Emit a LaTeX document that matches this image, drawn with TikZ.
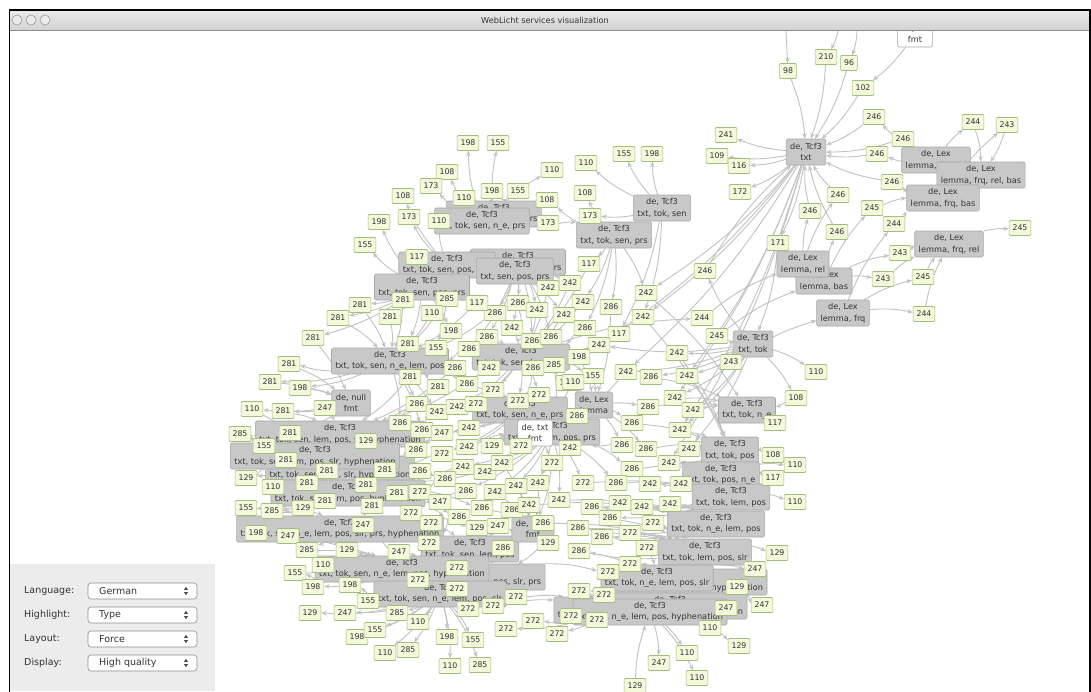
\documentclass[tikz,border=0pt]{standalone}
\usepackage{fontspec}
\setmainfont{DejaVu Sans}
\usetikzlibrary{arrows.meta,shapes.geometric}
\pgfdeclarelayer{bg}
\pgfsetlayers{bg,main}
\definecolor{gfill}{HTML}{F3F9DA}
\definecolor{gline}{HTML}{A2BF7A}
\definecolor{tfill}{HTML}{C8C8C8}
\definecolor{tline}{HTML}{A8A8A8}
\definecolor{edgec}{HTML}{C2C2C2}
\definecolor{txtc}{HTML}{333333}
\definecolor{panelc}{HTML}{ECECEC}
\definecolor{bartop}{HTML}{EAEAEA}
\definecolor{barbot}{HTML}{D2D2D2}
\begin{document}
\begin{tikzpicture}[x=1pt,y=-1pt,
  gl/.style={draw=gline, fill=gfill, line width=0.6pt, rounded corners=1pt,
    font=\fontsize{7.8}{9}\selectfont, text=txtc, inner xsep=3.4pt, inner ysep=0pt,
    minimum height=15pt},
  ty/.style={draw=tline, fill=tfill, line width=0.6pt, rounded corners=1.5pt,
    font=\fontsize{8.2}{11.5}\selectfont, text=txtc, align=center,
    inner xsep=4pt, inner ysep=1.5pt, minimum height=26pt},
  tw/.style={ty, fill=white},
  conn/.style={draw=edgec, line width=0.9pt, -{Stealth[length=5.5pt,width=4.5pt]}, bend left=8},
  uilab/.style={font=\fontsize{9.5}{11}\selectfont, text=txtc, inner sep=0pt},
  uival/.style={font=\fontsize{9.5}{11}\selectfont, text=txtc, inner sep=0pt},
  combo/.style={draw=black!45, fill=white, rounded corners=3pt, line width=0.6pt,
    minimum width=109pt, minimum height=16pt, inner sep=0pt},
]
\useasboundingbox (0,0) rectangle (1091,691);
\begin{pgfonlayer}{bg}
\fill[white] (0,0) rectangle (1091,691);
\end{pgfonlayer}

% ---------- type nodes ----------
\node[tw] (Tfmt) at (915,34) {de, txt\\fmt};
\node[ty] (T1) at (806,152) {de, Tcf3\\txt};
\node[ty] (TL1) at (936,160) {de, Lex\\lemma, frq, rel};
\node[ty] (TL2) at (981,175) {de, Lex\\lemma, frq, rel, bas};
\node[ty] (TL3) at (943,198) {de, Lex\\lemma, frq, bas};
\node[ty] (TL4) at (949,244) {de, Lex\\lemma, frq, rel};
\node[ty] (TL6) at (824,281) {de, Lex\\lemma, bas};
\node[ty] (TL5) at (803,264) {de, Lex\\lemma, rel};
\node[ty] (TL7) at (843,313) {de, Lex\\lemma, frq};
\node[ty] (TT2) at (753,344) {de, Tcf3\\txt, tok};

\node[ty] (TS1) at (662,208) {de, Tcf3\\txt, tok, sen};
\node[ty] (TS2) at (614,235) {de, Tcf3\\txt, tok, sen, prs};
\node[ty] (TS3) at (494,214) {de, Tcf3\\txt, tok, sen, n\_e, prs};
\node[ty] (TS4) at (482,221) {de, Tcf3\\txt, tok, sen, n\_e, prs};
\node[ty] (TS5) at (518,262) {de, Tcf3\\txt, tok, sen, pos, prs};
\node[ty] (TS6) at (447,265) {de, Tcf3\\txt, tok, sen, pos, n\_e};
\node[ty] (TS7) at (515,271) {de, Tcf3\\txt, sen, pos, prs};
\node[ty] (TS8) at (422,287) {de, Tcf3\\txt, tok, sen, pos, prs};

\node[ty] (TM1) at (390,361) {de, Tcf3\\txt, tok, sen, n\_e, lem, pos};
\node[ty] (TM2) at (521,357) {de, Tcf3\\txt, tok, sen, lem, pos};
\node[ty] (TN) at (351,403) {de, null\\fmt};

\node[ty] (TX1) at (340,434) {de, Tcf3\\txt, tok, sen, lem, pos, slr, hyphenation};
\node[ty] (TX3) at (340,469) {de, Tcf3\\txt, tok, sen, pos, slr, hyphenation};
\node[ty] (TX2) at (315,456) {de, Tcf3\\txt, tok, sen, lem, pos, slr, hyphenation};
\node[ty] (TX4) at (348,493) {de, Tcf3\\txt, tok, sen, lem, pos, hyphenation};
\node[ty] (TX5) at (340,529) {de, Tcf3\\txt, tok, sen, n\_e, lem, pos, slr, prs, hyphenation};
\node[ty] (TX6) at (470,549) {de, Tcf3\\txt, tok, sen, lem, pos};
\node[ty] (TX9) at (470,577) {de, Tcf3\\txt, tok, sen, n\_e, lem, pos, slr, prs};
\node[ty] (TX7) at (402,569) {de, Tcf3\\txt, tok, sen, n\_e, lem, pos, hyphenation};
\node[ty] (TX8) at (440,594) {de, Tcf3\\txt, tok, sen, n\_e, lem, pos, slr};

\node[ty] (TB2) at (520,410) {de, Tcf3\\txt, tok, sen, n\_e, prs};
\node[ty] (TB1) at (594,405) {de, Lex\\lemma};
\node[ty] (TB3) at (552,432) {de, Tcf3\\txt, tok, lem, pos, prs};
\node[tw] (TW) at (535,433) {de, txt\\fmt};
\node[ty] (THt) at (533,529) {de, html\\fmt};

\node[ty] (TR1) at (747,410) {de, Tcf3\\txt, tok, n\_e};
\node[ty] (TR2) at (730,450) {de, Tcf3\\txt, tok, pos};
\node[ty] (TR3) at (721,475) {de, Tcf3\\txt, tok, pos, n\_e};
\node[ty] (TR4) at (731,497) {de, Tcf3\\txt, tok, lem, pos};
\node[ty] (TR5) at (716,524) {de, Tcf3\\txt, tok, n\_e, lem, pos};
\node[ty] (TR6) at (705,552) {de, Tcf3\\txt, tok, lem, pos, slr};
\node[ty] (TR8) at (690,582) {de, Tcf3\\txt, tok, sen, lem, pos, hyphenation};
\node[ty] (TR7) at (657,578) {de, Tcf3\\txt, tok, n\_e, lem, pos, slr};
\node[ty] (TR11) at (610,610) {de, Tcf3\\txt, tok, n\_e, lem, pos, slr};
\node[ty] (TR9) at (670,606) {de, Tcf3\\txt, tok, sen, lem, pos, hyphenation};
\node[ty] (TR10) at (650,612) {de, Tcf3\\txt, tok, n\_e, lem, pos, hyphenation};

% ---------- service nodes with their connectors ----------
\def\nn{n}
\foreach \px/\py/\t/\src/\dst/\ex [count=\i] in {
788/71/98/n/T1/n, 826/57/210/n/T1/n, 849/63/96/n/T1/n, 863/88/102/Tfmt/T1/n,
874/117/246/TL1/T1/n, 726/135/241/T1/n/n, 717/156/109/T1/n/n, 739/166/116/T1/n/n,
740/192/172/T1/n/n, 903/139/246/TL2/T1/n, 877/154/246/TL1/T1/n, 892/182/246/TL3/T1/n,
973/122/244/TL1/TL2/n, 1007/125/243/TL3/TL2/n, 838/195/246/TL5/T1/n, 810/211/246/TL5/T1/n,
872/208/245/TL6/TL3/n, 894/224/244/TL7/TL3/n, 837/232/246/TL6/T1/n, 1020/228/245/TL4/n/n,
778/243/171/T1/TT2/n, 900/253/243/TL6/TL4/n, 883/279/243/TL6/TL4/n, 923/277/245/TL7/TL4/n,
705/271/246/TT2/T1/n, 924/314/244/TL7/TL4/n, 702/318/244/TM2/TL5/n, 717/336/245/TT2/TL6/n,
731/362/243/TT2/TL7/n, 816/372/110/TT2/n/n, 796/398/108/TT2/TR1/n, 775/423/117/TR1/n/n,
773/455/108/TR2/n/n, 795/465/110/TR3/n/n, 795/502/110/TR4/n/n,
468/143/198/TS4/n/n, 498/143/155/TS3/n/n, 447/172/108/TS4/n/n, 431/186/173/TS4/n/n,
403/196/108/TS6/n/n, 464/198/110/TS4/n/n, 492/191/198/TS3/n/n, 518/191/155/TS3/n/n,
547/200/108/TS2/n/n, 552/170/110/TS3/n/n, 586/163/110/TS1/n/n, 624/154/155/TS1/n/n,
652/154/198/TS1/n/n, 585/193/108/TS2/n/n, 590/216/173/TS1/TS2/n, 548/223/173/TS4/TS2/n,
379/222/198/TS8/n/n, 409/217/173/TS6/n/n, 439/221/110/TS6/n/n, 365/245/155/TS8/n/n,
417/257/117/TS8/TS6/n, 589/264/117/TS2/TM2/n, 570/283/242/TS7/TM2/n, 548/288/242/TS5/TM2/n,
646/293/242/TS2/TR1/T1, 583/302/242/TS2/TM2/n, 611/307/286/TS2/TB1/n, 518/303/286/TS7/TM2/n,
495/313/286/TS7/TM1/n, 537/310/242/TS5/TM2/n, 564/315/242/TS7/TM2/n, 643/317/242/TS1/TR2/T1,
477/303/117/TS8/TM1/n, 447/299/285/TS8/TM1/n, 403/300/281/TS8/TM1/n, 360/305/281/TS8/TM1/n,
390/317/281/TS8/TM1/n, 432/313/110/TS6/TM1/n, 512/328/242/TS5/TM2/n, 585/328/286/TS2/TM2/n,
619/334/117/TS1/TM2/n, 451/331/198/TS8/TM1/n, 487/337/286/TS7/TM2/n, 532/341/286/TS5/TM2/n,
551/337/286/TS5/TM2/n, 599/345/242/TT2/TM2/T1, 677/353/242/TT2/TR2/n, 338/318/281/TS8/TM1/n,
313/338/281/TS8/TN/n, 408/344/281/TS8/TM1/n, 436/348/155/TS6/TM1/n, 469/349/286/TS7/TM1/n,
289/364/281/TM1/TN/n, 455/368/286/TM1/TX1/n, 489/368/242/TM2/TX1/n, 579/357/198/TM2/TB1/n,
554/365/285/TM2/TB3/n, 533/368/286/TM2/TB2/n, 593/376/155/TM2/TB1/n, 626/372/242/TT2/TB3/T1,
651/377/286/TT2/TR1/n, 687/376/242/TT2/TR2/T1, 567/383/110/TM2/TB1/n, 410/377/281/TM1/TX1/n,
270/382/281/TM1/TN/n, 300/388/198/TM1/TN/n, 438/387/281/TM1/TX1/n, 467/384/286/TM1/TB2/n,
252/409/110/TN/TX2/n, 283/411/281/TN/TX1/n, 325/408/247/TN/TX1/n, 417/404/286/TM1/TX1/n,
437/412/242/TM1/TX1/n, 457/407/242/TM2/TB2/n, 476/404/272/TM2/TB2/n, 493/390/272/TM2/TB2/n,
518/401/272/TM2/TB2/n, 539/395/272/TM2/TB3/n, 573/382/110/TB1/TW/n, 577/416/286/TB1/TB3/n,
675/398/242/TT2/TR1/T1, 648/407/286/TB1/TR1/n, 693/410/242/TT2/TR1/n, 632/423/286/TB1/TR2/n,
680/430/242/TT2/TR2/T1, 469/428/242/TB2/TX1/n, 400/423/286/TM1/TX1/n, 422/430/286/TM1/TX1/n,
442/433/247/TB2/TX1/n, 240/434/285/TX1/TX2/n, 290/433/281/TN/TX1/n, 366/441/129/TX1/TX2/n,
264/446/155/TX1/TX2/n, 286/460/281/TX1/TX2/n, 416/450/286/TX1/TX2/n, 442/454/272/TB2/TX2/n,
467/447/242/TB2/TB3/n, 492/446/129/TB2/TB3/n, 521/446/272/TB2/TW/n, 570/448/242/TB1/TB3/n,
622/445/286/TB1/TB3/n, 646/449/286/TB1/TR2/n, 689/449/242/TT2/TR2/n, 246/478/129/TX2/TX3/n,
327/471/281/TX2/TX3/n, 385/470/281/TX2/TX3/n, 420/471/286/TX2/TX3/n, 463/467/242/TB3/TX3/n,
485/472/242/TB3/TX3/n, 502/463/242/TW/THt/n, 552/463/272/TW/THt/n, 669/463/242/TR2/TR3/T1,
632/469/286/TB3/TR3/n, 773/478/117/TR3/n/n, 273/487/110/TX3/TX4/n, 307/483/281/TX3/TX4/n,
366/485/281/TX3/TX4/n, 445/479/286/TX3/TX4/n, 466/491/286/TB3/TX4/n, 397/493/281/TX3/TX4/n,
420/492/272/TX3/TX4/n, 495/492/242/TB3/THt/n, 516/486/242/TB3/THt/n, 538/483/242/TB3/THt/n,
583/483/272/TB3/TR4/n, 616/483/286/TB3/TR4/n, 650/484/242/TR3/TR4/n, 681/484/242/TR3/TR4/n,
246/508/155/TX4/TX5/n, 272/511/285/TX4/TX5/n, 303/508/129/TX4/TX5/n, 325/501/281/TX3/TX4/n,
372/506/281/TX3/TX5/n, 440/502/247/TX4/TX5/n, 411/513/272/TX4/TX5/n, 482/508/286/TX4/THt/n,
459/517/286/TX4/TX5/n, 431/523/272/TX4/TX6/n, 512/510/286/THt/TX6/n, 529/505/242/THt/TR5/n,
559/500/242/TB3/TR5/n, 592/507/286/TR4/TR5/n, 620/503/242/TR4/TR5/n, 642/507/242/TR4/TR5/n,
670/504/242/TR4/TR5/n, 610/518/286/TR4/TR6/n, 256/533/198/TX5/TX7/n, 288/536/247/TX5/TX7/n,
363/525/247/TX5/TX7/n, 477/528/129/TX5/TX6/n, 498/526/247/THt/TX6/n, 543/523/286/THt/TR6/n,
653/523/272/TR5/TR6/n, 578/528/286/TR5/TR6/n, 630/533/272/TR5/TR6/n, 548/543/129/THt/TX9/n,
602/537/286/TR5/TR6/n, 503/548/286/TX6/TX9/n, 579/551/286/TR6/TR7/n, 647/548/272/TR6/TR7/n,
429/543/272/TX6/TX7/n, 307/550/285/TX5/TX7/n, 347/550/129/TX5/TX7/n, 399/552/247/TX6/TX7/n,
777/553/129/TR6/n/n, 323/565/110/TX7/TX8/n, 295/573/155/TX7/TX8/n, 457/568/272/TX6/TX8/n,
418/580/272/TX7/TX8/n, 313/587/198/TX7/n/n, 350/585/198/TX8/n/n, 457/589/272/TX9/TX8/n,
368/601/155/TX8/n/n, 468/609/272/TX8/n/n, 310/613/129/TX8/n/n, 345/613/247/TX8/n/n,
397/613/285/TX8/n/n, 418/622/110/TX8/n/n, 357/637/198/TX8/n/n, 375/630/155/TX8/n/n,
447/637/198/TX8/n/n, 473/640/155/TX8/n/n, 385/653/110/TX8/n/n, 408/650/285/TX8/n/n,
450/666/110/TX8/n/n, 480/665/285/TX8/n/n,
608/572/272/TX9/TR7/n, 630/564/272/TR6/TR7/n, 755/569/247/TR7/n/n, 737/587/129/TR8/n/n,
762/605/247/TR9/n/n, 726/608/247/TR10/n/n, 493/606/272/TX9/TR11/n, 516/597/272/TX9/TR11/n,
579/591/272/TR7/TR11/n, 604/595/272/TR7/TR10/n, 571/616/272/TR11/TR10/n, 597/620/272/TR11/TR10/n,
533/621/272/TR11/n/n, 506/629/272/TR11/n/n, 557/634/272/TR11/n/n, 710/628/110/TR10/n/n,
739/646/129/TR10/n/n, 687/653/110/TR10/n/n, 659/663/247/TR10/n/n, 697/678/110/TR10/n/n,
635/686/129/n/TR10/n}{
  \node[gl] (g\i) at (\px,\py) {\t};
  \begin{pgfonlayer}{bg}
    \ifx\src\nn\else \draw[conn] (\src) to (g\i);\fi
    \ifx\dst\nn\else \draw[conn] (g\i) to (\dst);\fi
    \ifx\ex\nn\else \draw[conn] (\ex) to (g\i);\fi
  \end{pgfonlayer}
}

% connectors entering from above the visible area
\coordinate (ta) at (786,31);
\coordinate (tb) at (838,31);
\coordinate (tc) at (857,31);
\begin{pgfonlayer}{bg}
\draw[conn, bend left=0] (ta) to (g1);
\draw[conn] (tb) to (g2);
\draw[conn] (tc) to (g3);
\end{pgfonlayer}

% ---------- window frame and title bar ----------
\shade[top color=bartop, bottom color=barbot] (10,10) rectangle (1090,30);
\draw[black!45, line width=0.6pt] (10,30.3) -- (1090,30.3);
\draw[black, line width=1.6pt] (9.5,700) -- (9.5,10) -- (1090,10) -- (1090,700);
\foreach \cx [count=\k] in {17,31,45}{
  \node[circle, draw=black!40, fill=black!8, line width=0.6pt, minimum size=10pt, inner sep=0pt] (btn\k) at (\cx,20) {};
}
\node[font=\fontsize{8.2}{10}\selectfont, text=txtc] (title) at (545,20) {WebLicht services visualization};

% ---------- control panel ----------
\fill[panelc] (10.3,564) rectangle (215,691);
\foreach \yy/\lab/\val [count=\k] in {591/Language:/German, 615/Highlight:/Type, 639/Layout:/Force, 663/Display:/High quality}{
  \node[uilab, anchor=west] (lab\k) at (24,\yy) {\lab};
  \node[combo] (cb\k) at (142.5,\yy) {};
  \node[uival, anchor=west] (cv\k) at (99,\yy) {\val};
  \fill[black!70] (184,\yy-1.2) -- (188,\yy-1.2) -- (186,\yy-4.2) -- cycle;
  \fill[black!70] (184,\yy+1.2) -- (188,\yy+1.2) -- (186,\yy+4.2) -- cycle;
}
\end{tikzpicture}
\end{document}
